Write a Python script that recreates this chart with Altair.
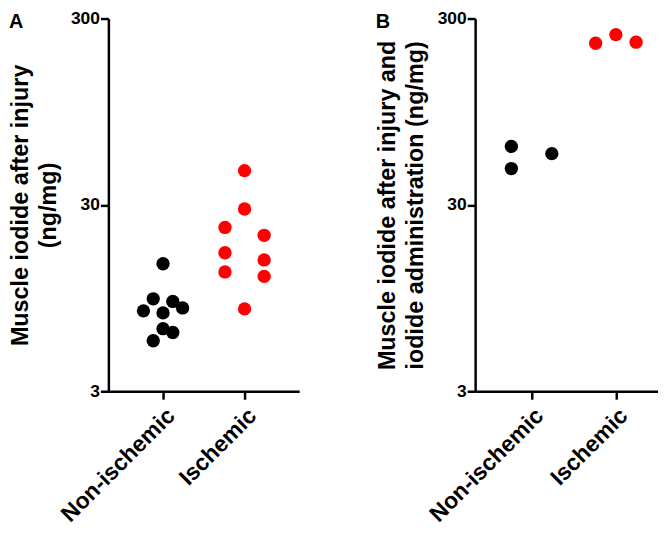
import altair as alt
import pandas as pd

groups = ["Non-ischemic", "Ischemic"]
colors = ["#000000", "#ff0000"]

# Panel A: muscle iodide after injury (ng/mg)
a_non_vals = [14.5, 9.4, 9.1, 8.1, 8.4, 7.9, 6.5, 6.2, 5.6]
a_non_slot = [0, -1, 1, -2, 2, 0, 0, 1, -1]
a_isc_vals = [45.8, 28.5, 22.7, 20.6, 16.6, 15.2, 13.1, 12.4, 8.3]
a_isc_slot = [0, 0, -2, 2, -2, 2, -2, 2, 0]

# Panel B: muscle iodide after injury and iodide administration (ng/mg)
b_non_vals = [61.8, 47.0, 56.5]
b_non_slot = [-2, -2, 2]
b_isc_vals = [221, 246, 224]
b_isc_slot = [-2, 0, 2]

y_ticks = [3, 30, 300]


def make_df(non_vals, non_slot, isc_vals, isc_slot):
    rows = []
    for v, s in zip(non_vals, non_slot):
        rows.append({"group": groups[0], "gi": 1, "slot": s, "value": v})
    for v, s in zip(isc_vals, isc_slot):
        rows.append({"group": groups[1], "gi": 2, "slot": s, "value": v})
    return pd.DataFrame(rows)


df_a = make_df(a_non_vals, a_non_slot, a_isc_vals, a_isc_slot)
df_b = make_df(b_non_vals, b_non_slot, b_isc_vals, b_isc_slot)

FONT = "Liberation Sans"
label_expr = f"datum.value == 1 ? '{groups[0]}' : '{groups[1]}'"


def panel(df, title, letter, w, h, xdom):
    pts = (
        alt.Chart(df)
        .transform_calculate(xpos="datum.gi + datum.slot * 0.12")
        .mark_circle(size=180, opacity=1)
        .encode(
            x=alt.X(
                "xpos:Q",
                scale=alt.Scale(domain=xdom, nice=False, zero=False),
                axis=alt.Axis(
                    values=[1, 2],
                    labelExpr=label_expr,
                    labelAngle=-45,
                    labelFontSize=23,
                    grid=False,
                    title=None,
                    labelPadding=5,
                ),
            ),
            y=alt.Y(
                "value:Q",
                scale=alt.Scale(type="log", domain=[3, 300], nice=False),
                axis=alt.Axis(
                    values=y_ticks,
                    format="d",
                    grid=False,
                    title=title,
                    titleFontSize=23.5,
                    titleLineHeight=28,
                    titlePadding=10,
                    labelFontSize=17.5,
                    labelPadding=1,
                ),
            ),
            color=alt.Color(
                "group:N", scale=alt.Scale(domain=groups, range=colors), legend=None
            ),
        )
    )
    lab = (
        alt.Chart(pd.DataFrame({"t": [letter]}))
        .mark_text(
            font=FONT, fontSize=20, fontWeight="bold", align="left", baseline="top", color="black"
        )
        .encode(text="t:N", x=alt.value(-100), y=alt.value(-6))
    )
    return alt.layer(pts, lab).properties(width=w, height=h)


pa = panel(df_a, ["Muscle iodide after injury", "(ng/mg)"], "A", 192, 375, [0.33, 2.67])
pb = panel(
    df_b,
    ["Muscle iodide after injury and", "iodide administration (ng/mg)"],
    "B",
    184,
    375,
    [0.33, 2.5],
)

chart = (
    alt.hconcat(pa, pb, spacing=76)
    .properties(padding={"left": 0, "top": 0, "right": 0, "bottom": 0})
    .configure_view(stroke=None)
    .configure_axis(
        domainColor="black",
        domainWidth=2.5,
        tickColor="black",
        tickWidth=2.5,
        tickSize=8,
        labelColor="black",
        titleColor="black",
        labelFont=FONT,
        titleFont=FONT,
        labelFontWeight="bold",
        titleFontWeight="bold",
    )
)

chart.save("out.html", embed_options={"renderer": "svg", "actions": False})
